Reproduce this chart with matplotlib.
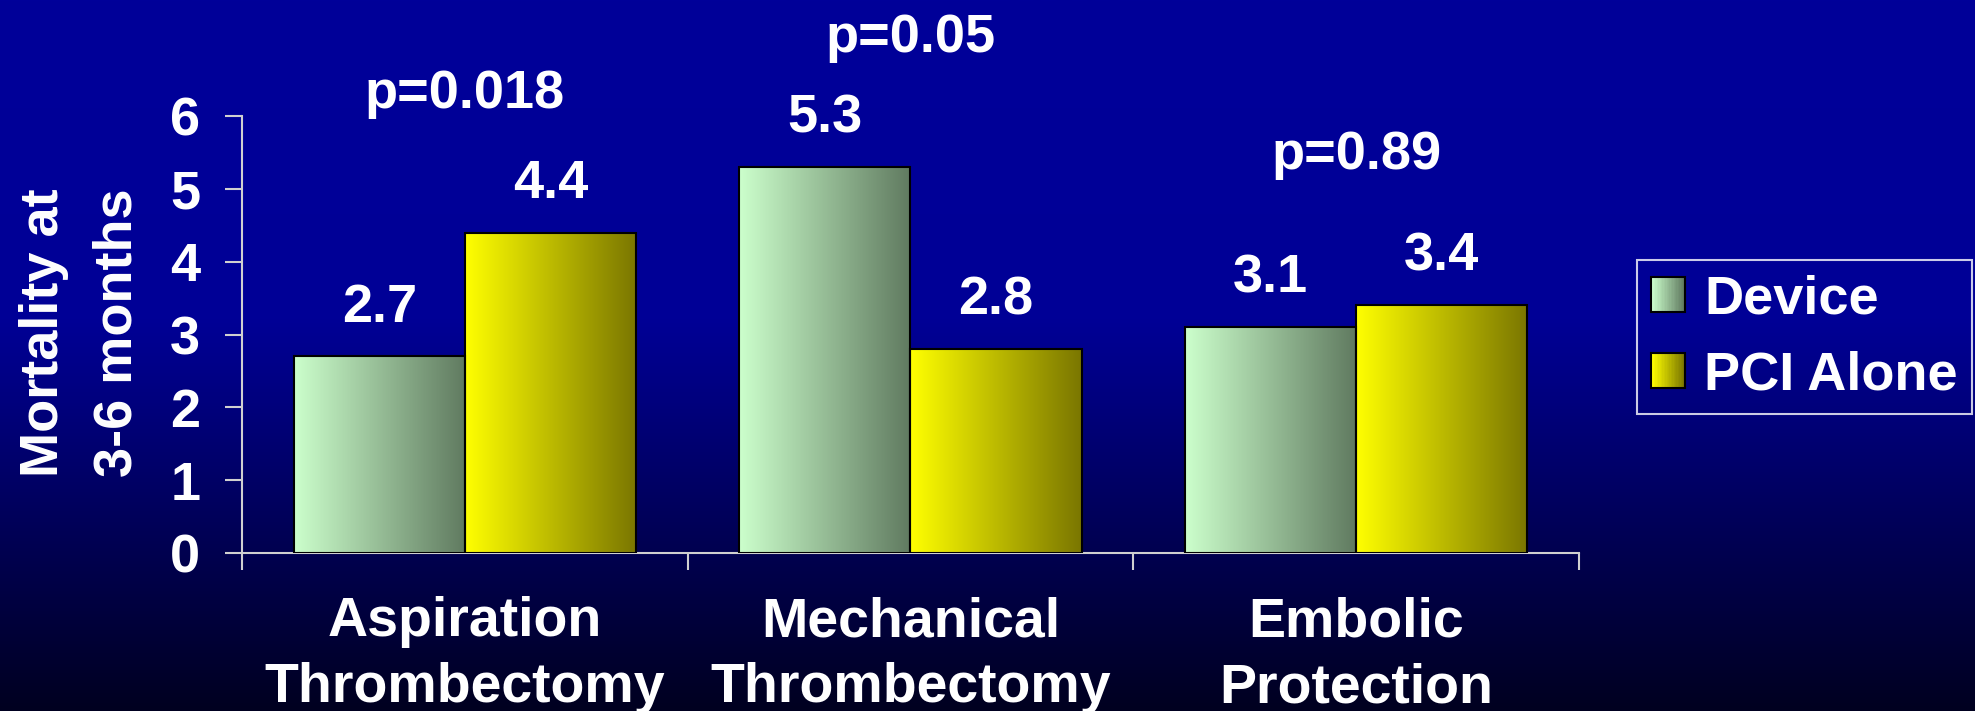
import numpy as np
import matplotlib
matplotlib.use('Agg')
import matplotlib.pyplot as plt
from matplotlib.colors import LinearSegmentedColormap
from matplotlib.legend_handler import HandlerBase
from matplotlib.patches import Rectangle

plt.rcParams['font.family'] = ['Liberation Sans', 'DejaVu Sans']
plt.rcParams['font.weight'] = 'bold'

# Data
categories = ['Aspiration\nThrombectomy', 'Mechanical\nThrombectomy', 'Embolic\nProtection']
device = [2.7, 5.3, 3.1]
pci_alone = [4.4, 2.8, 3.4]
p_values = ['p=0.018', 'p=0.05', 'p=0.89']
p_label_y = [6.11, 6.88, 5.27]

# light -> dark shade of each series
device_cols = ('#ccffcc', '#607a60')
pci_cols = ('#ffff00', '#7a7600')

FS = 39
AXIS_GRAY = '#d0d0d0'

fig = plt.figure(figsize=(19.75, 7.11), dpi=100)

# slide background: royal blue fading to near black at the bottom
bg = fig.add_axes([0, 0, 1, 1], zorder=0)
rows = np.linspace(0, 1, 256)
bg_img = np.zeros((256, 1, 3))
bg_img[:, 0, 2] = np.interp(rows, [0, 0.45, 1], [153, 150, 32]) / 255
bg.imshow(bg_img, aspect='auto', extent=(0, 1, 0, 1))
bg.axis('off')

ax = fig.add_axes([0.1225, 0.2222, 0.677, 0.6146], zorder=1)
ax.set_facecolor('none')

x = np.arange(len(categories))
w = 0.384
bars_d = ax.bar(x - w / 2, device, w, facecolor='none', edgecolor='black', lw=1.5, zorder=3)
bars_p = ax.bar(x + w / 2, pci_alone, w, facecolor='none', edgecolor='black', lw=1.5, zorder=3)


def fill_gradient(bars, cols):
    cmap = LinearSegmentedColormap.from_list('', cols)
    grad = np.linspace(0, 1, 256).reshape(1, -1)
    for b in bars:
        x0, y0 = b.get_xy()
        im = ax.imshow(grad, cmap=cmap, aspect='auto', zorder=2,
                       extent=(x0, x0 + b.get_width(), y0, y0 + b.get_height()))
        im.set_clip_path(b)


fill_gradient(bars_d, device_cols)
fill_gradient(bars_p, pci_cols)

ax.set_xlim(-0.5, 2.5)
ax.set_ylim(0, 6)

for s in ['top', 'right']:
    ax.spines[s].set_visible(False)
for s in ['left', 'bottom']:
    ax.spines[s].set_color(AXIS_GRAY)
    ax.spines[s].set_linewidth(1.5)

ax.set_yticks(range(7))
ax.tick_params(axis='y', length=12, width=1.5, color=AXIS_GRAY, pad=18,
               labelsize=FS, labelcolor='white')
ax.set_xticks(x)
ax.set_xticklabels(categories)
ax.tick_params(axis='x', which='major', length=0, pad=31, labelsize=40, labelcolor='white')
ax.set_xticks(np.arange(len(categories) + 1) - 0.5, minor=True)
ax.tick_params(axis='x', which='minor', length=12, width=1.5, color=AXIS_GRAY)
for t in ax.get_xticklabels():
    t.set_linespacing(1.35)

# value labels
for bars in (bars_d, bars_p):
    ax.bar_label(bars, padding=17, fontsize=FS, color='white', fontweight='bold')

# p-values
for xi, s, yy in zip(x, p_values, p_label_y):
    ax.text(xi, yy, s, ha='center', va='baseline', fontsize=FS, color='white', fontweight='bold')

fig.text(0.041, 0.532, 'Mortality at\n3-6 months', rotation=90, ha='center', va='center',
         fontsize=FS, linespacing=1.6, color='white', fontweight='bold')


class GradientHandler(HandlerBase):
    def __init__(self, cols, n=24):
        super().__init__()
        self.cols = cols
        self.n = n

    def create_artists(self, legend, orig_handle, xdescent, ydescent, width, height, fontsize, trans):
        cmap = LinearSegmentedColormap.from_list('', self.cols)
        arts = []
        for i in range(self.n):
            arts.append(Rectangle((-xdescent + i * width / self.n, -ydescent), width / self.n, height,
                                  facecolor=cmap(i / (self.n - 1)), edgecolor='none', transform=trans))
        arts.append(Rectangle((-xdescent, -ydescent), width, height, facecolor='none',
                              edgecolor='black', lw=1.5, transform=trans))
        return arts


leg = fig.legend([bars_d, bars_p], ['Device', 'PCI Alone'],
                 handler_map={bars_d: GradientHandler(device_cols), bars_p: GradientHandler(pci_cols)},
                 loc='upper left', bbox_to_anchor=(0.8289, 0.634), borderaxespad=0,
                 fancybox=False, edgecolor='white', facecolor='none',
                 prop={'size': FS, 'weight': 'bold'}, labelcolor='white',
                 handlelength=0.62, handleheight=0.62, handletextpad=0.36,
                 borderpad=0.26, labelspacing=0.48)
leg.get_frame().set_linewidth(1.5)

fig.savefig('out.png', dpi=100)
